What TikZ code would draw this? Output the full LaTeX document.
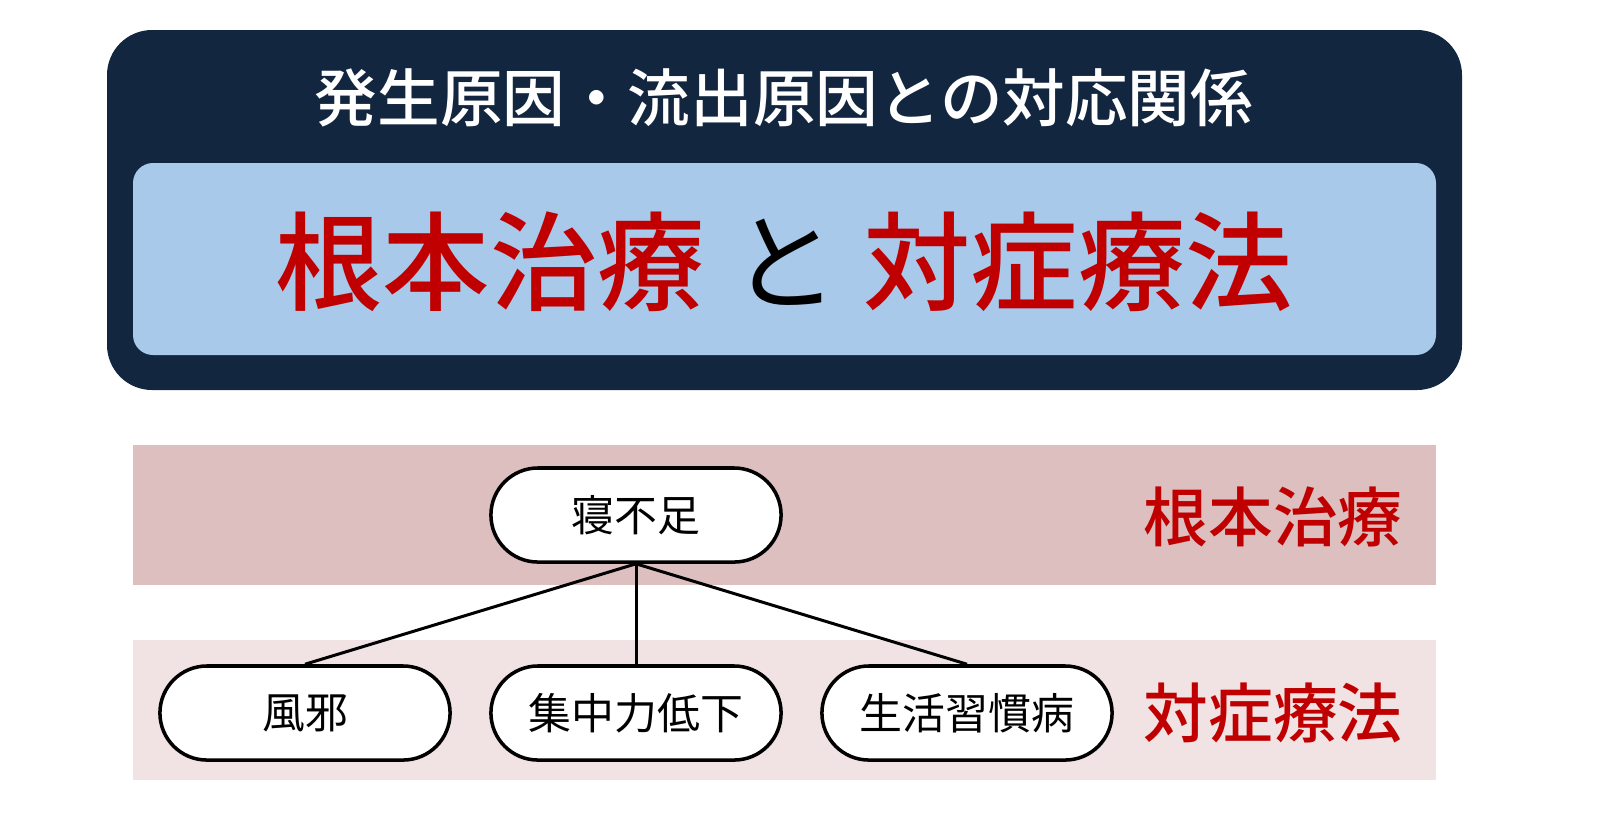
\documentclass[tikz,border=0pt]{standalone}
\usepackage{fontspec}
\setmainfont{Noto Sans CJK JP}
\newfontfamily\jpmedium{Noto Sans CJK JP Medium}
\usetikzlibrary{positioning}
\definecolor{navy}{HTML}{12263F}
\definecolor{paleblue}{HTML}{A9C9EB}
\definecolor{rootred}{HTML}{C00000}
\definecolor{bandtop}{HTML}{DDBFC0}
\definecolor{bandlow}{HTML}{F1E2E3}
\tikzset{
  titletext/.style={text=white, font=\fontsize{17.8pt}{20pt}\selectfont\jpmedium},
  bigred/.style={text=rootred, font=\fontsize{30.5pt}{34pt}\selectfont\jpmedium},
  sidelabel/.style={text=rootred, font=\fontsize{18.4pt}{21pt}\selectfont\jpmedium},
  pill/.style={draw=black, fill=white, line width=1pt, rounded corners=0.47cm,
    minimum width=2.9cm, minimum height=0.94cm, inner sep=0pt,
    font=\fontsize{12.2pt}{14pt}\selectfont},
  link/.style={draw=black, line width=0.85pt}
}
\begin{document}
\begin{tikzpicture}[x=0.01cm,y=-0.01cm]
\useasboundingbox (0,0) rectangle (1600,838);
% title panel
\fill[navy, rounded corners=0.45cm] (107,30) rectangle (1462,390);
\fill[paleblue, rounded corners=0.2cm] (133,163) rectangle (1436,355);
\node[titletext] (title) at (784,98) {発生原因・流出原因との対応関係};
\node[bigred] (konponbig) at (490,262) {根本治療};
\node[font=\fontsize{30.5pt}{34pt}\selectfont, text=black] (to) at (785,262) {と};
\node[bigred] (taishobig) at (1078,262) {対症療法};
% bands
\fill[bandtop] (133,445) rectangle (1436,585);
\fill[bandlow] (133,640) rectangle (1436,780);
% tree
\node[pill] (nebusoku) at (636,515) {寝不足};
\node[pill] (kaze) at (305,713) {風邪};
\node[pill] (shuchu) at (636,713) {集中力低下};
\node[pill] (seikatsu) at (967,713) {生活習慣病};
\draw[link] (nebusoku.south) -- (kaze.north);
\draw[link] (nebusoku.south) -- (shuchu.north);
\draw[link] (nebusoku.south) -- (seikatsu.north);
\node[sidelabel] (konpon) at (1273,517) {根本治療};
\node[sidelabel] (taisho) at (1273,713) {対症療法};
\end{tikzpicture}
\end{document}
